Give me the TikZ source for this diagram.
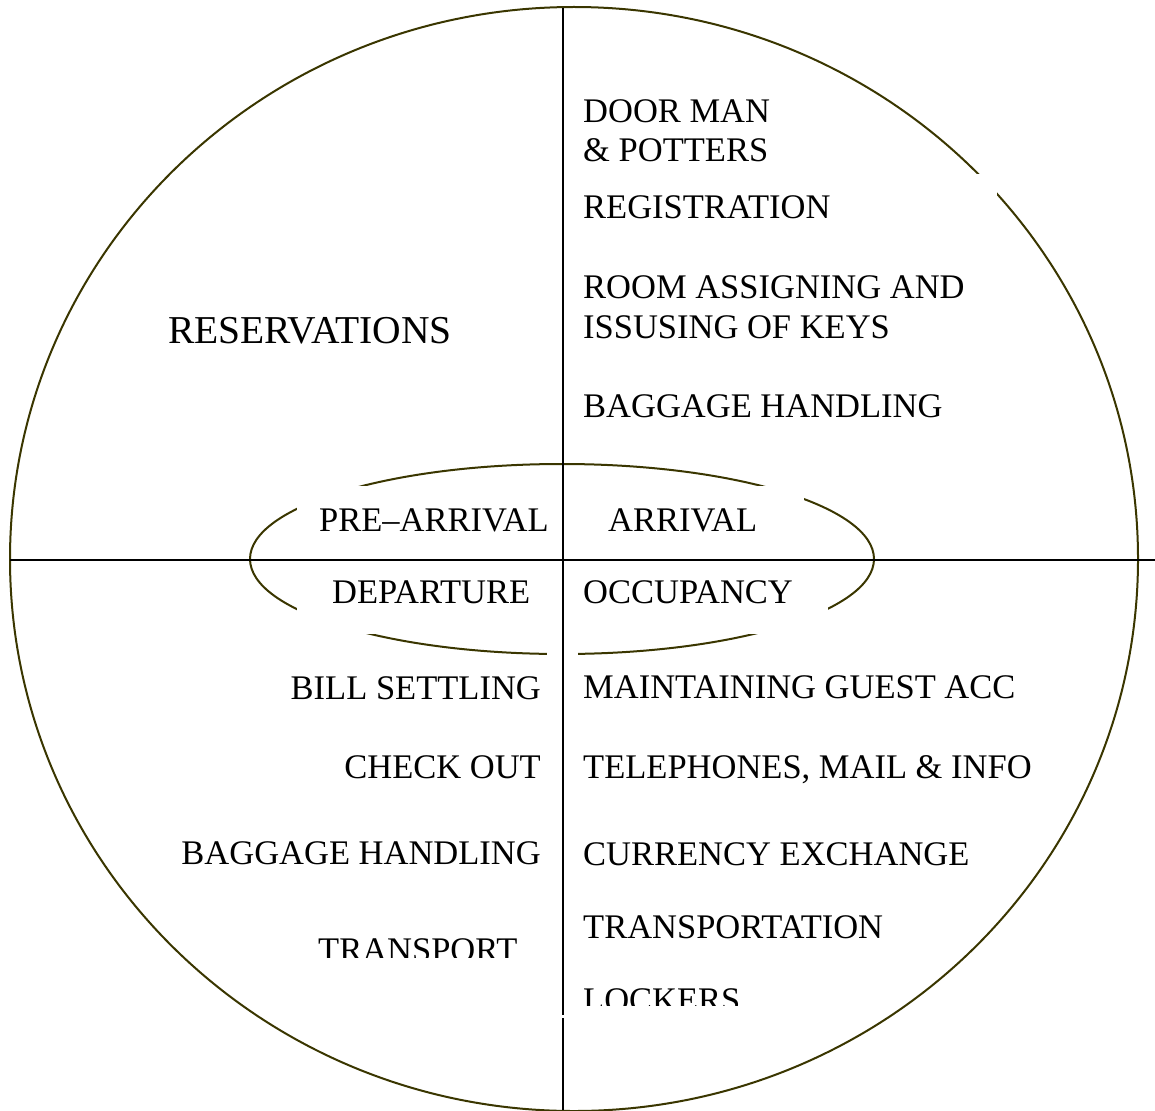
\documentclass[tikz,border=0pt]{standalone}
\usepackage{fontspec}
\setmainfont{Liberation Serif}
\definecolor{rimcol}{RGB}{58,54,0}
\tikzset{
  rim/.style={draw=rimcol, line width=2pt},
  axis/.style={draw=black, line width=2pt},
  gapbox/.style={fill=white, draw=none},
  lbl/.style={font=\fontsize{34.5}{40}\selectfont, inner sep=0pt, anchor=base west},
  lblr/.style={font=\fontsize{34.5}{40}\selectfont, inner sep=0pt, anchor=base east},
  biglbl/.style={font=\fontsize{39.5}{44}\selectfont, inner sep=0pt, anchor=base west}
}
\begin{document}
\begin{tikzpicture}[x=1pt,y=-1pt]
\useasboundingbox (0,0) rectangle (1155,1110);
% outer circle
\draw[rim] (574,559) ellipse [x radius=564, y radius=552];
\fill[gapbox] (600,174) rectangle (997,240);
% inner ellipse
\draw[rim] (562,559) ellipse [x radius=312, y radius=95];
\fill[gapbox] (297,486) rectangle (420,545);
\fill[gapbox] (297,573) rectangle (420,634);
\fill[gapbox] (700,486) rectangle (804,545);
\fill[gapbox] (700,573) rectangle (828,634);
\fill[gapbox] (547,640) rectangle (578,662);
% axes
\coordinate (vtop) at (563,8);
\coordinate (vgap1) at (563,1015);
\coordinate (vgap2) at (563,1018);
\coordinate (vbot) at (563,1110);
\coordinate (hleft) at (10,560);
\coordinate (hright) at (1155,560);
\draw[axis] (vtop) -- (vgap1);
\draw[axis] (vgap2) -- (vbot);
\draw[axis] (hleft) -- (hright);
% upper right
\node[lbl] (door) at (583,122.5) {DOOR MAN};
\node[lbl] (potters) at (583,162) {\& POTTERS};
\node[lbl] (reg) at (583,218) {REGISTRATION};
\node[lbl] (room1) at (583,298) {ROOM ASSIGNING AND};
\node[lbl] (room2) at (583,338) {ISSUSING OF KEYS};
\node[lbl] (bagu) at (583,417) {BAGGAGE HANDLING};
% upper left
\node[biglbl] (res) at (168,343) {RESERVATIONS};
% center
\node[lbl] (pre) at (319,531) {PRE–ARRIVAL};
\node[lbl] (arr) at (608,531) {ARRIVAL};
\node[lbl] (dep) at (332,603) {DEPARTURE};
\node[lbl] (occ) at (583,603) {OCCUPANCY};
% lower left
\node[lblr] (bill) at (541,699) {BILL SETTLING};
\node[lblr] (check) at (541,778) {CHECK OUT};
\node[lblr] (bagl) at (541,864) {BAGGAGE HANDLING};
\begin{scope}
\clip (300,900) rectangle (560,957);
\node[lbl] (transport) at (318,961) {TRANSPORT};
\end{scope}
% lower right
\node[lbl] (maint) at (583,698) {MAINTAINING GUEST ACC};
\node[lbl] (tel) at (583,778) {TELEPHONES, MAIL \& INFO};
\node[lbl] (cur) at (583,865) {CURRENCY EXCHANGE};
\node[lbl] (transp) at (583,938) {TRANSPORTATION};
\begin{scope}
\clip (570,960) rectangle (800,1005);
\node[lbl] (lockers) at (583,1011) {LOCKERS};
\end{scope}
\end{tikzpicture}
\end{document}
